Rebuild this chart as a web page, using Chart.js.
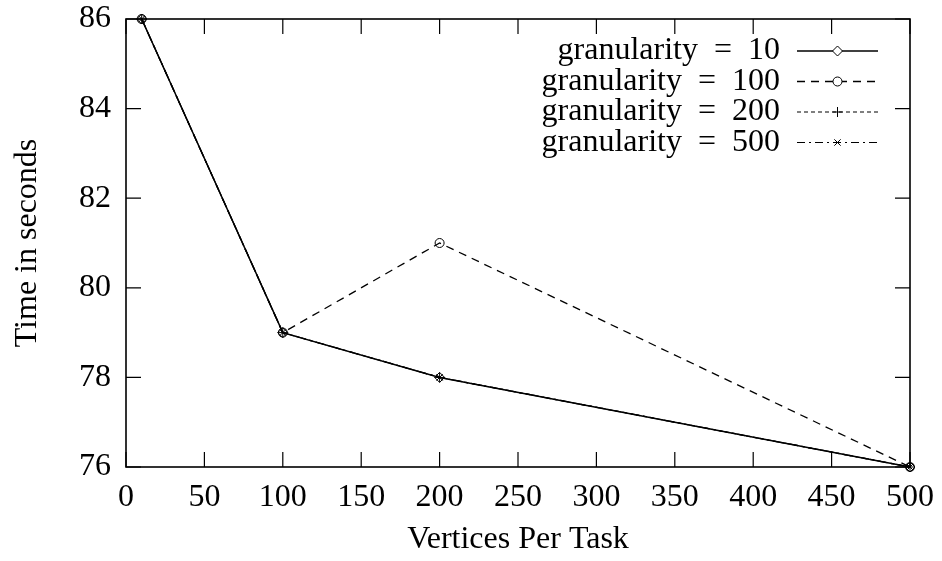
<!DOCTYPE html>
<html>
<head>
<meta charset="utf-8">
<script src="https://cdn.jsdelivr.net/npm/chart.js@4/dist/chart.umd.min.js"></script>
<style>
  html, body { margin: 0; padding: 0; background: #fff; }
  #wrap { width: 942px; height: 561px; }
</style>
</head>
<body>
<div id="wrap"><canvas id="plot" width="942" height="561"></canvas></div>
<script>
// data
const verticesPerTask = [10, 100, 200, 500];
const gran10 = [86, 79, 78, 76];
const gran100 = [86, 79, 81, 76];
const gran200 = [86, 79, 78, 76];
const gran500 = [86, 79, 78, 76];
const seriesLabels = ['granularity\u2002=\u200210', 'granularity\u2002=\u2002100', 'granularity\u2002=\u2002200', 'granularity\u2002=\u2002500'];
const xTicks = [0, 50, 100, 150, 200, 250, 300, 350, 400, 450, 500];
const yTicks = [76, 78, 80, 82, 84, 86];

const FONT = '"Liberation Serif", "DejaVu Serif", serif';
const FONT_SIZE = 32;

function toPoints(ys) {
    return verticesPerTask.map((x, i) => ({ x: x, y: ys[i] }));
}

// gnuplot style: frame all round, ticks pointing inwards on every side
const frameTicks = {
    id: 'frameTicks',
    afterDraw(chart) {
        const ctx = chart.ctx;
        const a = chart.chartArea;
        const xs = chart.scales.x, ys = chart.scales.y;
        const len = 15;
        ctx.save();
        ctx.strokeStyle = '#000';
        ctx.lineWidth = 1.2;
        xTicks.forEach(v => {
            const px = xs.getPixelForValue(v);
            ctx.beginPath();
            ctx.moveTo(px, a.bottom); ctx.lineTo(px, a.bottom - len);
            ctx.moveTo(px, a.top); ctx.lineTo(px, a.top + len);
            ctx.stroke();
        });
        yTicks.forEach(v => {
            const py = ys.getPixelForValue(v);
            ctx.beginPath();
            ctx.moveTo(a.left, py); ctx.lineTo(a.left + len, py);
            ctx.moveTo(a.right, py); ctx.lineTo(a.right - len, py);
            ctx.stroke();
        });
        ctx.lineWidth = 1.6;
        ctx.strokeRect(a.left, a.top, a.right - a.left, a.bottom - a.top);
        ctx.restore();
    }
};

// legend: right aligned text with the line sample on its right
const keyBox = {
    id: 'keyBox',
    afterDraw(chart) {
        const ctx = chart.ctx;
        const textRight = 780, lineX0 = 797, lineX1 = 878;
        const top = 51, row = 30.5;
        chart.data.datasets.forEach((ds, i) => {
            const y = top + i * row;
            ctx.save();
            ctx.fillStyle = '#000';
            ctx.font = FONT_SIZE + 'px ' + FONT;
            ctx.textAlign = 'right';
            ctx.textBaseline = 'middle';
            ctx.fillText(ds.label, textRight, y);
            ctx.strokeStyle = '#000';
            ctx.lineWidth = ds.borderWidth;
            ctx.setLineDash(ds.borderDash || []);
            ctx.beginPath();
            ctx.moveTo(lineX0, y);
            ctx.lineTo(lineX1, y);
            ctx.stroke();
            ctx.setLineDash([]);
            ctx.fillStyle = '#fff';
            ctx.lineWidth = 1;
            Chart.helpers.drawPoint(ctx, {
                pointStyle: ds.pointStyle,
                radius: ds.pointRadius,
                borderWidth: 1,
                rotation: 0
            }, (lineX0 + lineX1) / 2, y);
            ctx.restore();
        });
    }
};

const ctx = document.getElementById('plot').getContext('2d');
const chart = new Chart(ctx, {
    type: 'line',
    data: {
        datasets: [
            {
                label: seriesLabels[0],
                data: toPoints(gran10),
                borderColor: '#000',
                borderWidth: 1.5,
                pointStyle: 'rectRot',
                pointRadius: 5,
                pointBackgroundColor: 'rgba(255,255,255,0)',
                pointBorderColor: '#000',
                pointBorderWidth: 1
            },
            {
                label: seriesLabels[1],
                data: toPoints(gran100),
                borderColor: '#000',
                borderWidth: 1.3,
                borderDash: [8, 6],
                pointStyle: 'circle',
                pointRadius: 4.5,
                pointBackgroundColor: 'rgba(255,255,255,0)',
                pointBorderColor: '#000',
                pointBorderWidth: 1
            },
            {
                label: seriesLabels[2],
                data: toPoints(gran200),
                borderColor: '#000',
                borderWidth: 1.2,
                borderDash: [4, 3],
                pointStyle: 'cross',
                pointRadius: 5,
                pointBorderColor: '#000',
                pointBorderWidth: 1
            },
            {
                label: seriesLabels[3],
                data: toPoints(gran500),
                borderColor: '#000',
                borderWidth: 1.2,
                borderDash: [8, 4, 2, 4],
                pointStyle: 'crossRot',
                pointRadius: 4.5,
                pointBorderColor: '#000',
                pointBorderWidth: 1
            }
        ]
    },
    options: {
        responsive: false,
        animation: false,
        clip: false,
        layout: { padding: { top: 19, right: 32, left: 0, bottom: 0 } },
        plugins: {
            legend: { display: false },
            tooltip: { enabled: false }
        },
        scales: {
            x: {
                type: 'linear',
                min: 0,
                max: 500,
                afterFit: s => { s.height = 94; s.paddingLeft = 0; s.paddingRight = 0; },
                afterBuildTicks: s => { s.ticks = xTicks.map(v => ({ value: v })); },
                grid: { display: false, drawTicks: false },
                border: { display: false },
                ticks: {
                    color: '#000',
                    padding: 11,
                    maxRotation: 0,
                    font: { family: FONT, size: FONT_SIZE }
                },
                title: {
                    display: true,
                    text: 'Vertices Per Task',
                    color: '#000',
                    padding: { top: 0, bottom: 2 },
                    font: { family: FONT, size: FONT_SIZE }
                }
            },
            y: {
                min: 76,
                max: 86,
                afterFit: s => { s.width = 126; s.paddingTop = 0; s.paddingBottom = 0; },
                afterBuildTicks: s => { s.ticks = yTicks.map(v => ({ value: v })); },
                grid: { display: false, drawTicks: false },
                border: { display: false },
                ticks: {
                    color: '#000',
                    padding: 15,
                    font: { family: FONT, size: FONT_SIZE }
                },
                title: {
                    display: true,
                    text: 'Time in seconds',
                    color: '#000',
                    padding: { top: 8, bottom: 0 },
                    font: { family: FONT, size: FONT_SIZE }
                }
            }
        }
    },
    plugins: [frameTicks, keyBox]
});
</script>
</body>
</html>
